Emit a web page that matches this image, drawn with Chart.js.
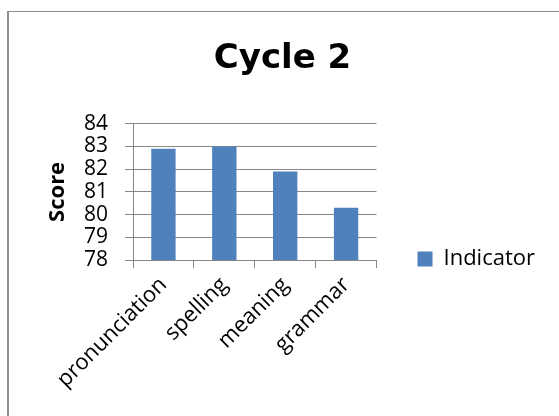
<!DOCTYPE html>
<html>
<head>
<meta charset="utf-8">
<script src="https://cdn.jsdelivr.net/npm/chart.js@4.4.1/dist/chart.umd.min.js"></script>
<style>
  html, body { margin: 0; padding: 0; background: #ffffff; overflow: hidden; }
  #frame {
    position: absolute; left: 7px; top: 11px; width: 600px; height: 500px;
    border-left: 2px solid #8c8c8c; border-top: 1px solid #8c8c8c;
  }
  #wrap { position: absolute; left: 0; top: 0; width: 559px; height: 416px; }
</style>
</head>
<body>
<div id="frame"></div>
<div id="wrap"><canvas id="chart" width="559" height="416"></canvas></div>
<script>
const categories = ["pronunciation", "spelling", "meaning", "grammar"];
const scores = [82.9, 83.0, 81.9, 80.3];
const seriesName = "Indicator";
const chartTitle = "Cycle 2";
const axisTitle = "Score";
const yMin = 78;
const yMax = 84;

const gridColor = "#868686";
const barColor = "#4f81bd";

Chart.defaults.font.family = "'Open Sans', sans-serif";
Chart.defaults.color = "#000000";

function createChart(id) {
  const ctx = document.getElementById(id).getContext("2d");
  return new Chart(ctx, {
    type: "bar",
    data: {
      labels: categories,
      datasets: [
        {
          label: seriesName,
          data: scores,
          backgroundColor: barColor,
          borderWidth: 0,
          categoryPercentage: 1.0,
          barPercentage: 0.4,
        },
      ],
    },
    options: {
      responsive: false,
      animation: false,
      devicePixelRatio: 1,
      layout: {
        padding: { left: 20, top: 12, right: 14, bottom: 0 },
      },
      plugins: {
        title: {
          display: true,
          text: chartTitle,
          font: { family: "'DejaVu Sans', sans-serif", size: 34, weight: "bold" },
          padding: { top: 27, bottom: 44 },
        },
        legend: {
          position: "right",
          align: "start",
          fullSize: true,
          // empty legend title only pushes the item down to the x axis level
          title: {
            display: true,
            text: "",
            font: { size: 10, lineHeight: 1 },
            padding: { top: 223, bottom: 0 },
          },
          labels: {
            boxWidth: 15,
            boxHeight: 15,
            padding: 3,
            font: { size: 22 },
          },
        },
        tooltip: { enabled: false },
      },
      scales: {
        x: {
          offset: true,
          grid: {
            offset: true,
            drawOnChartArea: false,
            drawTicks: true,
            tickLength: 8,
            color: gridColor,
          },
          border: { color: gridColor },
          ticks: {
            autoSkip: false,
            minRotation: 45,
            maxRotation: 45,
            padding: 4,
            font: { size: 22 },
          },
          afterFit: (scale) => {
            scale.height = 156;
          },
        },
        y: {
          min: yMin,
          max: yMax,
          grid: {
            color: gridColor,
            tickLength: 8,
          },
          border: { color: gridColor },
          ticks: {
            autoSkip: false,
            stepSize: 1,
            padding: 17,
            font: { size: 21 },
          },
          title: {
            display: true,
            text: axisTitle,
            font: { size: 22, weight: "bold" },
            padding: { top: 25, bottom: 0 },
          },
          afterFit: (scale) => {
            scale.width = 113;
          },
        },
        // empty space between plot and legend, like the gap in the original
        gap: {
          type: "linear",
          position: "right",
          display: false,
          afterFit: (scale) => {
            scale.width = 38;
          },
        },
      },
    },
  });
}

createChart("chart");
</script>
</body>
</html>
